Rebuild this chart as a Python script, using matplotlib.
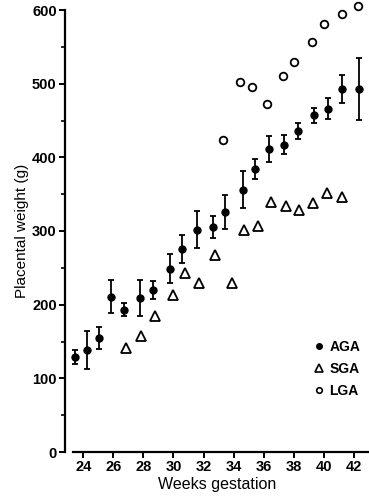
import numpy as np
import matplotlib
matplotlib.use("Agg")
import matplotlib.pyplot as plt
from matplotlib.lines import Line2D

# AGA: mean placental weight with error bars
aga_weeks = [23.45, 24.23, 25.05, 25.83, 26.73, 27.79, 28.63, 29.76, 30.58, 31.58, 32.6,
             33.42, 34.62, 35.44, 36.33, 37.37, 38.3, 39.36, 40.25, 41.22, 42.35]
aga_weight = [129, 138, 155, 211, 193, 209, 220, 249, 276, 302, 306,
              326, 356, 384, 411, 417, 436, 457, 466, 493, 493]
aga_err = [10, 26, 15, 22, 9, 25, 12, 20, 19, 25, 15,
           23, 25, 14, 18, 13, 11, 10, 14, 19, 42]

# SGA: open triangles
sga_weeks = [26.85, 27.84, 28.77, 29.95, 30.8, 31.7, 32.76, 33.9,
             34.7, 35.6, 36.48, 37.46, 38.35, 39.3, 40.18, 41.18]
sga_weight = [141, 157, 185, 213, 243, 230, 267, 230,
              301, 307, 340, 334, 329, 338, 351, 346]

# LGA: open circles
lga_weeks = [33.3, 34.44, 35.22, 36.2, 37.3, 38.03, 39.19, 40.03, 41.22, 42.28]
lga_weight = [423, 502, 496, 472, 511, 529, 556, 581, 594, 606]

xticks = [24, 26, 28, 30, 32, 34, 36, 38, 40, 42]

plt.rcParams['font.family'] = ['Liberation Sans', 'DejaVu Sans']

fig = plt.figure(figsize=(3.69, 5.00), dpi=100)
ax = fig.add_axes([65 / 369, 1 - 452 / 500, 1 - 65 / 369, 442 / 500])

ax.errorbar(aga_weeks, aga_weight, yerr=aga_err, fmt='o', color='black',
            markersize=5, elinewidth=1.3, capsize=2.5, capthick=1.3, clip_on=False)
ax.plot(sga_weeks, sga_weight, '^', markersize=7, markerfacecolor='white',
        markeredgecolor='black', markeredgewidth=1.3, linestyle='none')
ax.plot(lga_weeks, lga_weight, 'o', markersize=5.5, markerfacecolor='white',
        markeredgecolor='black', markeredgewidth=1.3, linestyle='none', clip_on=False)

ax.set_xlim(22.79, 43.0)
ax.set_ylim(0, 600)
ax.set_xticks(xticks)
ax.set_yticks(np.arange(0, 601, 100))
ax.set_yticks(np.arange(50, 600, 100), minor=True)

for s in ['top', 'right']:
    ax.spines[s].set_visible(False)
ax.spines['left'].set_linewidth(1.6)
ax.spines['bottom'].set_linewidth(1.6)
ax.spines['bottom'].set_bounds(23.32, 43.0)

ax.tick_params(axis='both', which='major', direction='out', length=4, width=1.4,
               labelsize=10.5, pad=2)
ax.tick_params(axis='y', which='minor', direction='out', length=3, width=1.2)
for lab in ax.get_xticklabels() + ax.get_yticklabels():
    lab.set_fontweight('bold')

ax.set_xlabel('Weeks gestation', fontsize=11.5, labelpad=2)
ax.set_ylabel('Placental weight (g)', fontsize=11, labelpad=2)

handles = [
    Line2D([], [], marker='o', color='black', linestyle='none', markersize=4),
    Line2D([], [], marker='^', markerfacecolor='white', markeredgecolor='black',
           markeredgewidth=1.2, linestyle='none', markersize=6),
    Line2D([], [], marker='o', markerfacecolor='white', markeredgecolor='black',
           markeredgewidth=1.2, linestyle='none', markersize=4),
]
leg = ax.legend(handles, ['AGA', 'SGA', 'LGA'], loc='center left',
                bbox_to_anchor=(0.805, 0.188), frameon=False, fontsize=10,
                handlelength=0.6, handletextpad=0.4, labelspacing=0.6,
                borderaxespad=0)
for t in leg.get_texts():
    t.set_fontweight('bold')

fig.savefig('out.png', dpi=100)
